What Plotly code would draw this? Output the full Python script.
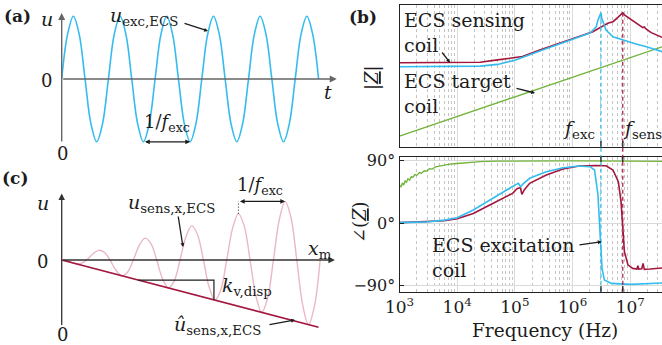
import plotly.graph_objects as go

W, H = 662, 345
FONT = "DejaVu Serif"
INK = "#1c1c1c"
AXIS_GREY = "#666666"
BLUE = "#35bcee"
RED = "#a3173e"
GREEN = "#72b33a"
PINK = "#ebb7c4"

# ---------------- (a) excitation voltage, time in periods of f_exc ----------------
t_exc = [0.0, 0.125, 0.25, 0.375, 0.5, 0.625, 0.75, 0.875,
         1.0, 1.125, 1.25, 1.375, 1.5, 1.625, 1.75, 1.875,
         2.0, 2.125, 2.25, 2.375, 2.5, 2.625, 2.75, 2.875,
         3.0, 3.125, 3.25, 3.375, 3.5, 3.625, 3.75, 3.875,
         4.0, 4.125, 4.25, 4.375, 4.5, 4.625, 4.75, 4.875,
         5.0, 5.125, 5.25, 5.375, 5.5]
u_exc = [0, 0.71, 1, 0.71, 0, -0.71, -1, -0.71,
         0, 0.71, 1, 0.71, 0, -0.71, -1, -0.71,
         0, 0.71, 1, 0.71, 0, -0.71, -1, -0.71,
         0, 0.71, 1, 0.71, 0, -0.71, -1, -0.71,
         0, 0.71, 1, 0.71, 0, -0.71, -1, -0.71,
         0, 0.71, 1, 0.71, 0]
trough_idx = [14, 22]          # troughs spanning one period 1/f_exc

# ---------------- (c) sensing voltage over target displacement ----------------
x_sens = [0, 0.034, 0.159, 0.284, 0.409, 0.534, 0.659, 0.784, 0.909,
          1.034, 1.159, 1.284, 1.409, 1.534, 1.659, 1.784, 1.909,
          2.034, 2.159, 2.284, 2.409, 2.534, 2.659, 2.784, 2.909,
          3.034, 3.159, 3.284, 3.409, 3.534, 3.659, 3.784, 3.909,
          4.034, 4.159, 4.284, 4.409, 4.534, 4.659, 4.784, 4.909,
          5.034, 5.159, 5.284, 5.409, 5.534]
u_sens = [0, 0, -0.022, -0.055, -0.056, 0, 0.091, 0.153, 0.125,
          0, -0.160, -0.250, -0.194, 0, 0.229, 0.348, 0.263,
          0, -0.298, -0.445, -0.332, 0, 0.367, 0.543, 0.401,
          0, -0.436, -0.640, -0.470, 0, 0.504, 0.738, 0.539,
          0, -0.573, -0.835, -0.608, 0, 0.642, 0.933, 0.677,
          0, -0.711, -1.030, -0.746, 0]
peak_idx = [31, 39]            # neighbouring maxima, one period apart
env_x = [0, 5.5]
env_u = [0, -1.07]
slope_run = [1.64, 3.26]

# ---------------- (b) measured coil impedances ----------------
f_sens_coil = [1e3, 1e4, 2.5e4, 5e4, 1.0e5, 1.1e5, 1.2e5, 1.35e5, 2.7e5, 5e5, 1e6,
               2.24e6, 4.07e6, 5.0e6, 6.1e6, 6.9e6, 7.4e6, 7.9e6, 9.1e6, 1.1e7,
               1.45e7, 1.65e7, 1.75e7, 1.85e7, 2.3e7, 3.55e7]
z_sens_coil = [1930, 1950, 2040, 2690, 3550, 3760, 3650, 3980, 8590, 15800, 30200,
               73600, 198000, 239000, 398000, 589000, 687000, 525000, 398000, 269000,
               162000, 120000, 128000, 105000, 66100, 38000]

f_exc_coil = [1e3, 1e4, 2.5e4, 5e4, 1e5, 2.7e5, 5e5, 1e6, 2e6, 2.57e6, 2.75e6,
              2.95e6, 3.1e6, 3.2e6, 3.43e6, 3.8e6, 5.0e6, 7.4e6, 1.26e7, 1.9e7, 3.55e7]
z_exc_coil = [1210, 1220, 1290, 1580, 2570, 7590, 15100, 30200, 63100, 132000, 288000,
              468000, 687000, 355000, 200000, 89100, 40700, 27500, 17400, 12600, 7080]

f_target = [1e3, 1e4, 1e5, 1e6, 1e7, 3.55e7]
z_target = [0.35, 3.5, 35, 350, 3500, 12400]

fp_sens_coil = [1e3, 3e3, 6e3, 1e4, 1.9e4, 3.6e4, 7e4, 9.1e4, 1.1e5, 1.25e5, 1.32e5,
                1.45e5, 1.8e5, 3.5e5, 6.8e5, 1.3e6, 2.5e6, 3.8e6, 5e6, 6.2e6, 6.9e6,
                7.4e6, 7.9e6, 9.1e6, 1.1e7, 1.3e7, 1.35e7, 1.4e7, 1.58e7, 1.66e7,
                1.75e7, 2.2e7, 3.55e7]
ph_sens_coil = [0.8, 1.8, 3.5, 6.5, 14, 26, 38, 43, 50, 51, 41.6,
                48, 57.5, 69.4, 78, 82.4, 83.2, 82.8, 76.6, 59.8, 31,
                -7.3, -41, -60, -65, -66, -61, -66, -65.5, -58,
                -66.5, -66, -64.5]

fp_exc_coil = [1e3, 3e3, 6e3, 1e4, 1.9e4, 3.6e4, 7e4, 1.05e5, 1.15e5, 1.25e5, 1.4e5,
               1.8e5, 3.5e5, 6.8e5, 1.3e6, 2e6, 2.4e6, 2.75e6, 3e6, 3.24e6, 3.55e6,
               4.7e6, 1e7, 3.55e7]
ph_exc_coil = [0.8, 2, 4.5, 8, 19, 33, 48, 56, 57.5, 52.6, 57,
               64.7, 74, 80, 82.4, 81.4, 76.6, 40.6, -17, -65, -81.8,
               -86.6, -88, -86]

fp_target = [1e3, 1.06e3, 1.12e3, 1.18e3, 1.25e3, 1.32e3, 1.4e3, 1.5e3, 1.6e3, 1.7e3,
             1.85e3, 2e3, 2.2e3, 2.4e3, 2.7e3, 3e3, 3.3e3, 3.7e3, 4.2e3, 5e3, 6e3,
             7.5e3, 1e4, 1.5e4, 2.5e4, 5e4, 1e5, 1e6, 1e7, 3.55e7]
ph_target = [55, 52, 58, 55, 61, 59, 64, 62, 67, 66,
             70, 69, 73, 72, 75.5, 75, 78.5, 78, 81, 82.5, 84,
             85, 86, 87.5, 88.6, 89.3, 89.6, 89.7, 89.5, 89.0]

x_ticks = [1e3, 1e4, 1e5, 1e6, 1e7]
x_ticktext = ["10<sup>3</sup>", "10<sup>4</sup>", "10<sup>5</sup>", "10<sup>6</sup>", "10<sup>7</sup>"]
ph_ticks = [-90, 0, 90]
ph_ticktext = ["−90°", "0°", "90°"]

# resonance frequencies taken at the impedance maxima
i_exc = z_exc_coil.index(max(z_exc_coil))
i_sen = z_sens_coil.index(max(z_sens_coil))
f_exc, zpk_exc = f_exc_coil[i_exc], z_exc_coil[i_exc]
f_sen, zpk_sen = f_sens_coil[i_sen], z_sens_coil[i_sen]


# ---------------- helpers (pixel layout -> paper fractions) ----------------
def px(x, y):
    return x / W, 1 - y / H


def dom_x(a, b):
    return [a / W, b / W]


def dom_y(top, bottom):
    return [1 - bottom / H, 1 - top / H]


ann = []


def text(s, x, y, size=18, xa="center", ya="middle", angle=0, color=INK, align="left"):
    X, Y = px(x, y)
    ann.append(dict(text=s, x=X, y=Y, xref="paper", yref="paper", xanchor=xa,
                    yanchor=ya, showarrow=False, textangle=angle, align=align,
                    font=dict(family=FONT, size=size, color=color)))


def pointer(x0, y0, x1, y1):
    X, Y = px(x1, y1)
    ann.append(dict(text="", x=X, y=Y, xref="paper", yref="paper", ax=x0 - x1,
                    ay=y0 - y1, showarrow=True, arrowhead=2, arrowsize=0.6,
                    arrowwidth=1.3, arrowcolor=INK, standoff=0))


def data_arrow(xr, yr, x0, y0, x1, y1, color, both=False, width=1.3, size=0.9):
    ann.append(dict(text="", xref=xr, yref=yr, axref=xr, ayref=yr, x=x1, y=y1,
                    ax=x0, ay=y0, showarrow=True, arrowhead=2, arrowsize=size,
                    startarrowhead=2, startarrowsize=size, arrowwidth=width,
                    arrowcolor=color, arrowside="end+start" if both else "end",
                    standoff=0, startstandoff=0))


fig = go.Figure()
sk = dict(hoverinfo="skip", showlegend=False)

# (a)
fig.add_trace(go.Scatter(x=t_exc, y=u_exc, xaxis="x", yaxis="y", mode="lines",
                         line=dict(color=BLUE, width=1.6, shape="spline"), **sk))
# (c)
fig.add_trace(go.Scatter(x=x_sens, y=u_sens, xaxis="x2", yaxis="y2", mode="lines",
                         line=dict(color=PINK, width=1.4, shape="spline"), **sk))
fig.add_trace(go.Scatter(x=env_x, y=env_u, xaxis="x2", yaxis="y2", mode="lines",
                         line=dict(color=RED, width=1.7), **sk))
k_env = env_u[1] / env_x[1]
fig.add_trace(go.Scatter(x=[slope_run[0], slope_run[1], slope_run[1]],
                         y=[k_env * slope_run[0], k_env * slope_run[0], k_env * slope_run[1]],
                         xaxis="x2", yaxis="y2", mode="lines",
                         line=dict(color=INK, width=1.2), **sk))
# (b) magnitude
fig.add_trace(go.Scatter(x=f_target, y=z_target, xaxis="x3", yaxis="y3", mode="lines",
                         line=dict(color=GREEN, width=1.3), **sk))
fig.add_trace(go.Scatter(x=f_sens_coil, y=z_sens_coil, xaxis="x3", yaxis="y3", mode="lines",
                         line=dict(color=RED, width=1.6), **sk))
fig.add_trace(go.Scatter(x=f_exc_coil, y=z_exc_coil, xaxis="x3", yaxis="y3", mode="lines",
                         line=dict(color=BLUE, width=1.6), **sk))
# (b) phase
fig.add_trace(go.Scatter(x=fp_target, y=ph_target, xaxis="x4", yaxis="y4", mode="lines",
                         line=dict(color=GREEN, width=1.3), **sk))
fig.add_trace(go.Scatter(x=fp_sens_coil, y=ph_sens_coil, xaxis="x4", yaxis="y4", mode="lines",
                         line=dict(color=RED, width=1.6), **sk))
fig.add_trace(go.Scatter(x=fp_exc_coil, y=ph_exc_coil, xaxis="x4", yaxis="y4", mode="lines",
                         line=dict(color=BLUE, width=1.6), **sk))

# ---------------- axes ----------------
A_ORIGIN = (61.7, 79.0)
C_ORIGIN = (61.7, 260.0)
PER_PX, AMP_PX = 46.7, 62.8
hidden = dict(visible=False, fixedrange=True)


def lin_range(o, lo_px, hi_px, scale, flip=False):
    if flip:
        return [(o - hi_px) / scale, (o - lo_px) / scale]
    return [(lo_px - o) / scale, (hi_px - o) / scale]


frame = dict(showline=True, linecolor="#222222", linewidth=1.3, zeroline=False)
grid_x = dict(showgrid=True, gridcolor="#dadada", gridwidth=1,
              minor=dict(dtick="D1", showgrid=True, gridcolor="#c4c4c4",
                         griddash="3px,3px", gridwidth=1, ticks=""))

fig.update_layout(
    width=W, height=H, template="none",
    margin=dict(l=0, r=0, t=0, b=0),
    paper_bgcolor="white", plot_bgcolor="rgba(0,0,0,0)",
    font=dict(family=FONT, color=INK),
    showlegend=False,
    xaxis=dict(domain=dom_x(0, 340), anchor="y",
               range=lin_range(A_ORIGIN[0], 0, 340, PER_PX), **hidden),
    yaxis=dict(domain=dom_y(0, 165), anchor="x",
               range=lin_range(A_ORIGIN[1], 0, 165, AMP_PX, flip=True), **hidden),
    xaxis2=dict(domain=dom_x(0, 340), anchor="y2",
                range=lin_range(C_ORIGIN[0], 0, 340, PER_PX), **hidden),
    yaxis2=dict(domain=dom_y(165, 345), anchor="x2",
                range=lin_range(C_ORIGIN[1], 165, 345, AMP_PX, flip=True), **hidden),
    xaxis3=dict(domain=dom_x(399.5, 662), anchor="y3", type="log", range=[3, 7.549],
                tickvals=x_ticks, showticklabels=False, ticks="", mirror=True,
                **frame, **grid_x),
    yaxis3=dict(domain=dom_y(5, 146.7), anchor="x3", type="log", range=[-1, 6.23],
                showticklabels=False, ticks="", showgrid=False, **frame),
    xaxis4=dict(domain=dom_x(399.5, 662), anchor="y4", type="log", range=[3, 7.549],
                tickvals=x_ticks, ticktext=x_ticktext, ticks="", mirror=True,
                tickfont=dict(family=FONT, size=17, color=INK),
                **frame, **grid_x),
    yaxis4=dict(domain=dom_y(156.7, 291.7), anchor="x4", range=[-98.6, 95.8],
                tickvals=ph_ticks, ticktext=ph_ticktext, ticks="inside", ticklen=4,
                tickcolor="#222222", showgrid=True, gridcolor="#dadada",
                tickfont=dict(family=FONT, size=16, color=INK), **frame),
)

# axis arrows of the sketches
data_arrow("x", "y", 0, -1.02, 0, 1.05, AXIS_GREY, width=1.4, size=1.0)
data_arrow("x", "y", 0, 0, 5.89, 0, AXIS_GREY, width=1.4, size=1.0)
data_arrow("x2", "y2", 0, -1.06, 0, 1.06, "#333333", width=1.3, size=1.0)
data_arrow("x2", "y2", 0, 0, 5.85, 0, "#333333", width=1.3, size=1.0)

# period markers
ta, tb = t_exc[trough_idx[0]], t_exc[trough_idx[1]]
data_arrow("x", "y", ta, u_exc[trough_idx[0]], tb, u_exc[trough_idx[1]], INK, both=True, width=1.2, size=0.8)
pa, pb = x_sens[peak_idx[0]], x_sens[peak_idx[1]]
data_arrow("x2", "y2", pa, u_sens[peak_idx[1]], pb, u_sens[peak_idx[1]], INK, both=True, width=1.2, size=0.8)

shapes = [
    dict(type="line", xref="x2", yref="y2", x0=pa, x1=pa, y0=u_sens[peak_idx[0]],
         y1=u_sens[peak_idx[1]], line=dict(color=INK, width=1, dash="1px,2px")),
]

# resonance markers through both impedance panels
for f, zpk, col in [(f_exc, zpk_exc, BLUE), (f_sen, zpk_sen, RED)]:
    shapes.append(dict(type="line", xref="x3", yref="y3", x0=f, x1=f, y0=zpk, y1=0.1,
                       line=dict(color=col, width=1.2, dash="4px,3px")))
    shapes.append(dict(type="line", xref="x3", yref="paper", x0=f, x1=f,
                       y0=1 - 291.7 / H, y1=1 - 146.7 / H,
                       line=dict(color=col, width=1.2, dash="4px,3px")))
    for y0, y1 in [(146.7, 141.0), (156.7, 162.0), (291.7, 286.0)]:
        shapes.append(dict(type="line", xref="x3", yref="paper", x0=f, x1=f,
                           y0=1 - y0 / H, y1=1 - y1 / H,
                           line=dict(color="#222222", width=1.3)))

# ---------------- labels ----------------
# (a)
text("<b>(a)</b>", 17, 16, 17)
text("<i>u</i>", 47, 19, 19)
text("0", 46, 80, 18)
text("0", 62, 153, 18)
text("<i>t</i>", 328, 92, 19)
text("<i>u</i><sub>exc,ECS</sub>", 144, 17, 19)
pointer(183, 23, 208, 31)
text("1/<i>f</i><sub>exc</sub>", 167, 123, 18)

# (c)
text("<b>(c)</b>", 15, 178, 17)
text("<i>u</i>", 43, 203, 19)
text("0", 42, 261, 18)
text("0", 62, 334, 18)
text("<i>x</i><sub>m</sub>", 320, 249, 19)
text("<i>u</i><sub>sens,x,ECS</sub>", 171, 203, 19)
pointer(178, 215, 183, 247)
text("1/<i>f</i><sub>exc</sub>", 260, 186, 18)
text("<i>k</i><sub>v,disp</sub>", 247, 286, 19)
text("<i>û</i><sub>sens,x,ECS</sub>", 217, 325, 19)
pointer(268, 325, 295, 320)

# (b)
text("<b>(b)</b>", 363, 17, 17)
text("ECS sensing<br>coil", 402, 32.4, 19, xa="left")
pointer(441, 51, 450, 62.7)
text("ECS target<br>coil", 402, 93.4, 19, xa="left")
pointer(515, 88, 535, 93)
text("ECS excitation<br>coil", 430, 257.4, 19, xa="left")
pointer(578, 245, 601.7, 241.7)
text("<i>f</i><sub>exc</sub>", 597, 129, 19, xa="right")
text("<i>f</i><sub>sens</sub>", 621, 129, 19, xa="left")
text("|<u><i>Z</i></u>|", 372, 78, 18, angle=-90)
text("∠(<u><i>Z</i></u>)", 360, 222, 18, angle=-90)
text("Frequency (Hz)", 545, 330, 18.5)

fig.update_layout(annotations=ann, shapes=shapes)
fig.write_html("out.html")
